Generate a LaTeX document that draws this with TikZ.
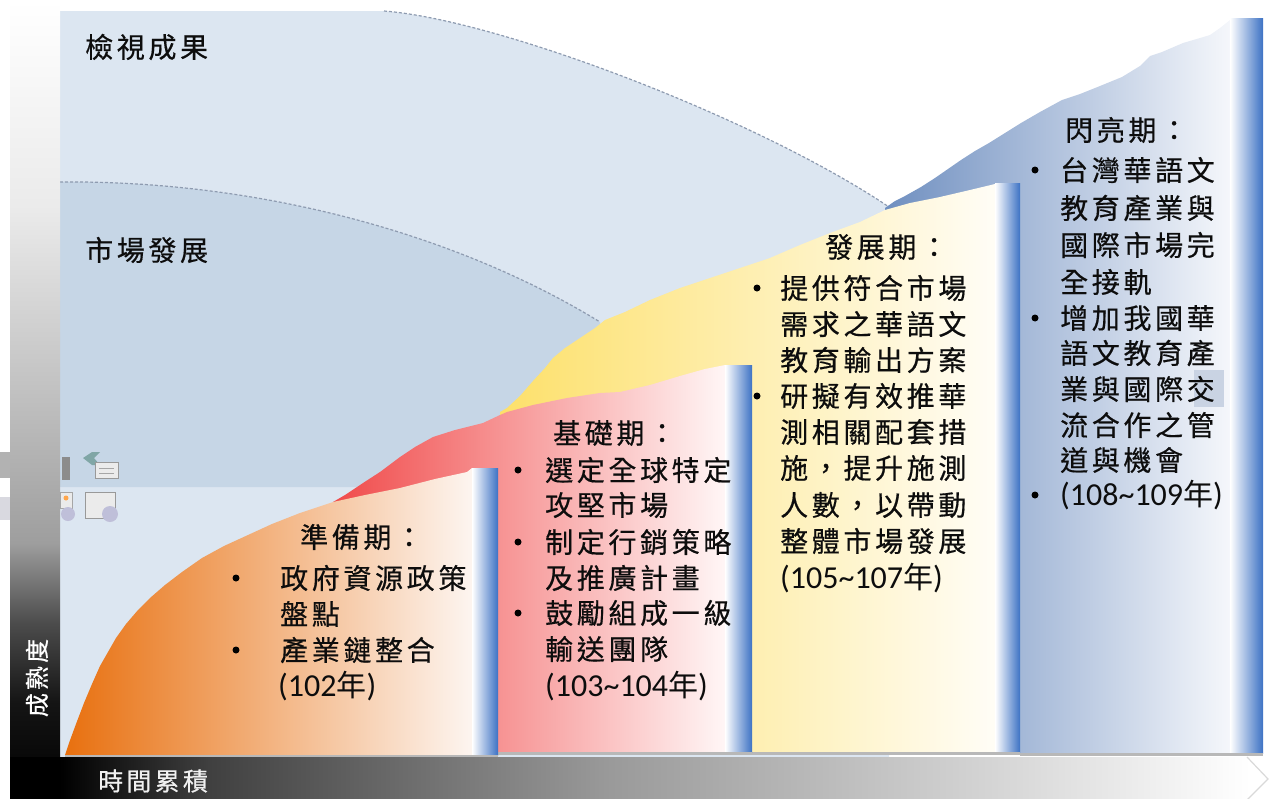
\documentclass[tikz,border=0pt]{standalone}
\usepackage{fontspec}
\newfontfamily\cjk[LetterSpace=13,FakeBold=0.5]{Noto Sans CJK TC}
\newfontfamily\cjkplain{Noto Sans CJK TC}
\newfontfamily\lat{Carlito}
\newcommand\yrs[1]{{\lat\fontsize{32pt}{36pt}\selectfont(#1}{\cjkplain\fontsize{30pt}{36pt}\selectfont 年}{\lat\fontsize{32pt}{36pt}\selectfont)}}
\definecolor{bgone}{HTML}{DCE6F1}
\definecolor{bgtwo}{HTML}{C6D6E6}
\definecolor{stripblue}{HTML}{3D72C4}
\definecolor{dashc}{HTML}{8E9BB0}
\definecolor{blA}{HTML}{6F8FC0}
\definecolor{blB}{HTML}{B2C3DC}
\definecolor{blC}{HTML}{F5F7FB}
\definecolor{yeA}{HTML}{FDE06A}
\definecolor{yeB}{HTML}{FDEDAE}
\definecolor{yeC}{HTML}{FFFDF6}
\definecolor{reA}{HTML}{F04A4A}
\definecolor{reB}{HTML}{F9A2A2}
\definecolor{reC}{HTML}{FFF6F6}
\definecolor{orA}{HTML}{E8700F}
\definecolor{orB}{HTML}{F0A465}
\definecolor{orC}{HTML}{FDF5F0}
\definecolor{hilite}{HTML}{C9D3E3}
\pgfdeclareverticalshading{lbar}{100bp}{color(0bp)=(black); color(25bp)=(black); color(31bp)=(black!92); color(36bp)=(black!70); color(41bp)=(black!38); color(50bp)=(black!25); color(62bp)=(black!8); color(75bp)=(white); color(100bp)=(white)}
\pgfdeclarehorizontalshading{bbar}{100bp}{color(0bp)=(black); color(27bp)=(black); color(33bp)=(black!75); color(49bp)=(black!40); color(65bp)=(black!16); color(75bp)=(white); color(100bp)=(white)}
\tikzset{
  txt/.style={anchor=west, inner sep=0pt, font=\cjk\fontsize{28pt}{34pt}\selectfont, text=black!95},
  bul/.style={circle, fill=black, inner sep=0pt, minimum size=7pt},
  stripbox/.style={left color=white, right color=stripblue},
  dashline/.style={dashc, line width=1.2pt, dash pattern=on 3pt off 2pt},
  cardshadow/.style={fill=black!28},
}
\begin{document}
\begin{tikzpicture}[x=1pt,y=-1pt]
\useasboundingbox (0,0) rectangle (1269,798);
% backgrounds
\fill[bgone] (60,11) -- (384,11) .. controls (500,20) and (760,120) .. (889,207) -- (889,757) -- (60,757) -- cycle;
\fill[bgtwo] (60,182) .. controls (250,180) and (450,230) .. (600,322) -- (600,487) -- (60,487) -- cycle;
\draw[dashline] (384,11) .. controls (500,20) and (760,120) .. (889,207);
\draw[dashline] (60,182) .. controls (250,180) and (450,230) .. (600,322);
% faint icons
\fill[black!30] (0,452) rectangle (10,478);
\fill[blue!20!black!15] (0,497) rectangle (10,520);
\fill[black!45] (62,457) rectangle (70,480);
\fill[teal!60!black!50] (83,458) -- (92,452) -- (100,452) -- (94,458) -- (100,465) -- (92,465) -- cycle;
\filldraw[fill=black!8, draw=black!40] (95,462) rectangle (118,478);
\draw[black!35] (99,468) -- (114,468) (99,473) -- (114,473);
\filldraw[fill=black!8, draw=black!35] (60,492) rectangle (72,508);
\fill[orange!70] (66,498) circle (2.5);
\fill[blue!40!black!25] (68,514) circle (7);
\filldraw[fill=black!8, draw=black!40] (85,492) rectangle (115,518);
\fill[blue!40!black!25] (110,514) circle (8);
% axes bars
\shade[shading=lbar] (10,0) rectangle (60,798);
\shade[shading=bbar] (10,757) rectangle (1250,798);
\draw[black!15, line width=1.2pt] (1247,757) -- (1268,779) -- (1247,800);
% card 4 (blue)
\shade[left color=blA, middle color=blB, right color=blC] (885,208) -- (895,201) -- (905,196) -- (921,187) -- (935,178) -- (948,169) -- (961,160) -- (975,151) -- (989,143) -- (1005,133) -- (1021,123) -- (1040,112) -- (1062,100) -- (1080,94) -- (1100,86) -- (1122,77) -- (1140,66) -- (1150,56) -- (1162,52) -- (1183,43) -- (1200,38) -- (1210,35) -- (1220,28) -- (1230,20) -- (1230,753) -- (885,753) -- cycle;
\shade[stripbox] (1230,18) rectangle (1263,753);
\fill[cardshadow] (1020,753) rectangle (1263,755.5);
% card 3 (yellow)
\shade[left color=yeA, middle color=yeB, right color=yeC] (500,412) -- (507,408) -- (520,396) -- (533,381) -- (545,368) -- (553,358) -- (565,348) -- (580,338) -- (595,328) -- (605,320) -- (625,312) -- (650,300) -- (680,288) -- (710,278) -- (740,268) -- (770,258) -- (800,245) -- (830,233) -- (860,222) -- (885,210) -- (910,203) -- (940,197) -- (970,190) -- (995,184) -- (995,752) -- (500,752) -- cycle;
\shade[stripbox] (995,183) rectangle (1020,752);
\fill[cardshadow] (752,752) rectangle (1020,754.5);
% card 2 (red)
\shade[left color=reA, middle color=reB, right color=reC] (333,502) -- (345,495) -- (363,483) -- (380,472) -- (400,457) -- (415,447) -- (433,437) -- (455,430) -- (483,423) -- (500,415) -- (507,412) -- (533,405) -- (567,398) -- (600,393) -- (620,392) -- (650,385) -- (680,376) -- (705,369) -- (725,365) -- (725,752) -- (333,752) -- cycle;
\shade[stripbox] (725,365) rectangle (752,752);
\fill[cardshadow] (498,752) rectangle (752,754.5);
% card 1 (orange)
\shade[left color=orA, middle color=orB, right color=orC] (65,755) -- (69,743) -- (76,724) -- (84,703) -- (92,684) -- (100,666) -- (108,652) -- (116,638) -- (126,624) -- (138,610) -- (150,598) -- (165,585) -- (182,572) -- (202,558) -- (224,546) -- (248,535) -- (272,524) -- (300,513) -- (318,507) -- (333,502) -- (365,495) -- (400,488) -- (435,479) -- (467,472) -- (472,468) -- (472,755) -- cycle;
\shade[stripbox] (472,468) rectangle (498,755);
\fill[cardshadow] (65,755) rectangle (498,757);
% highlight behind 交
\fill[hilite] (1194,370) rectangle (1224,407);
% titles
\node[txt] (t1) at (85,47) {檢視成果};
\node[txt] (t2) at (85,250) {市場發展};
\node[txt, anchor=center, rotate=90, text=white, font=\cjk\fontsize{24pt}{28pt}\selectfont] (ya) at (37,678) {成熟度};
\node[txt, text=white!94!black, font=\cjk\fontsize{25pt}{30pt}\selectfont] (xa) at (98,781) {時間累積};
% card 1 text
\node[txt] (c1h) at (300,537) {準備期：};
\node[bul] (b11) at (236,578) {};
\node[txt] (c1a) at (280,578) {政府資源政策};
\node[txt] (c1b) at (280,614) {盤點};
\node[bul] (b12) at (236,650) {};
\node[txt] (c1c) at (280,650) {產業鏈整合};
\node[txt] (c1d) at (278,686) {\yrs{102}};
% card 2 text
\node[txt] (c2h) at (553,433) {基礎期：};
\node[bul] (b21) at (518,470) {};
\node[txt] (c2a) at (545,470) {選定全球特定};
\node[txt] (c2b) at (545,505) {攻堅市場};
\node[bul] (b22) at (518,542) {};
\node[txt] (c2c) at (545,542) {制定行銷策略};
\node[txt] (c2d) at (545,578) {及推廣計畫};
\node[bul] (b23) at (518,613) {};
\node[txt] (c2e) at (545,613) {鼓勵組成一級};
\node[txt] (c2f) at (545,649) {輸送團隊};
\node[txt] (c2g) at (545,686) {\yrs{103\string~104}};
% card 3 text
\node[txt] (c3h) at (825,247) {發展期：};
\node[bul] (b31) at (757,288) {};
\node[txt] (c3a) at (780,288) {提供符合市場};
\node[txt] (c3b) at (780,324) {需求之華語文};
\node[txt] (c3c) at (780,360) {教育輸出方案};
\node[bul] (b32) at (757,396) {};
\node[txt] (c3d) at (780,396) {研擬有效推華};
\node[txt] (c3e) at (780,432) {測相關配套措};
\node[txt] (c3f) at (780,468) {施，提升施測};
\node[txt] (c3g) at (780,505) {人數，以帶動};
\node[txt] (c3k) at (780,541) {整體市場發展};
\node[txt] (c3i) at (780,578) {\yrs{105\string~107}};
% card 4 text
\node[txt] (c4h) at (1065,130) {閃亮期：};
\node[bul] (b41) at (1035,170) {};
\node[txt] (c4a) at (1060,170) {台灣華語文};
\node[txt] (c4b) at (1060,208) {教育產業與};
\node[txt] (c4c) at (1060,245) {國際市場完};
\node[txt] (c4d) at (1060,282) {全接軌};
\node[bul] (b42) at (1035,318) {};
\node[txt] (c4e) at (1060,318) {增加我國華};
\node[txt] (c4f) at (1060,353) {語文教育產};
\node[txt] (c4g) at (1060,389) {業與國際交};
\node[txt] (c4k) at (1060,425) {流合作之管};
\node[txt] (c4i) at (1060,460) {道與機會};
\node[bul] (b43) at (1035,495) {};
\node[txt] (c4j) at (1060,495) {\yrs{108\string~109}};
\end{tikzpicture}
\end{document}
